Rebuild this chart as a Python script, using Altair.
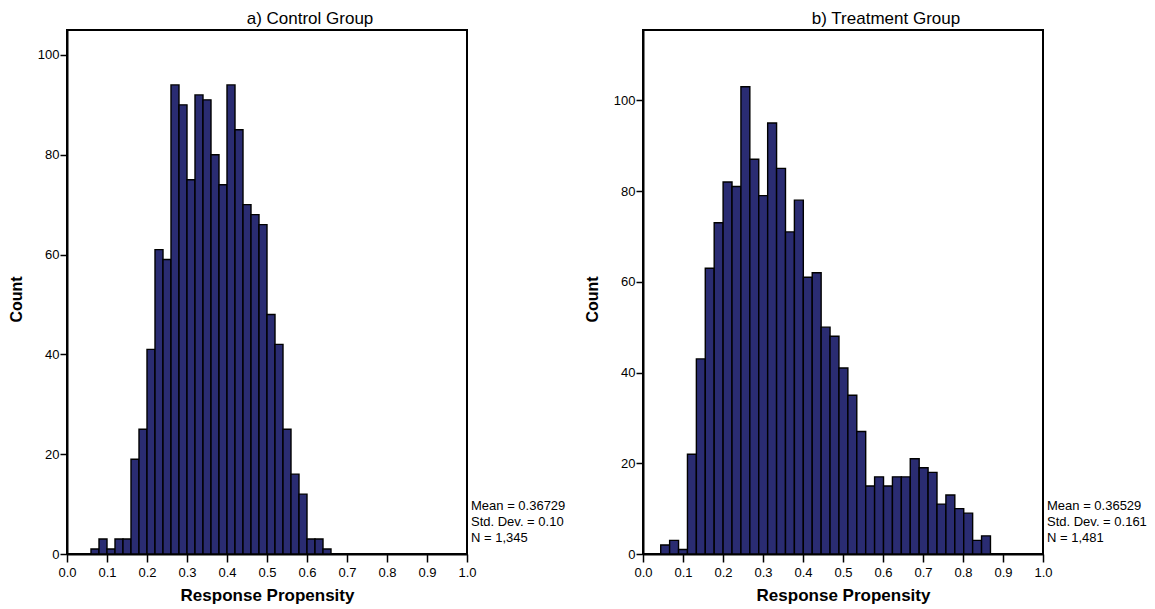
import altair as alt
import pandas as pd

FONT = "Liberation Sans, Arial, Helvetica, sans-serif"
BAR_FILL = "#2a2c72"

# ---- data ----
control_title = "a) Control Group"
treatment_title = "b) Treatment Group"

control_bin_start = 0.06
control_bin_width = 0.02
control_counts = [1, 3, 1, 3, 3, 19, 25, 41, 61, 59, 94, 90, 75, 92, 91, 80,
                  74, 94, 85, 70, 68, 66, 48, 42, 25, 16, 12, 3, 3, 1]

treatment_bin_start = 0.0443
treatment_bin_width = 0.02228
treatment_counts = [2, 3, 1, 22, 43, 63, 73, 82, 81, 103, 87, 79, 95, 85, 71, 78,
                    61, 62, 50, 48, 41, 35, 27, 15, 17, 15, 17, 17, 21, 19, 18,
                    11, 13, 10, 9, 3, 4]

control_stats = ["Mean = 0.36729", "Std. Dev. = 0.10", "N = 1,345"]
treatment_stats = ["Mean = 0.36529", "Std. Dev. = 0.161", "N = 1,481"]

x_ticks = [0.0, 0.1, 0.2, 0.3, 0.4, 0.5, 0.6, 0.7, 0.8, 0.9, 1.0]
y_ticks = [0, 20, 40, 60, 80, 100]
control_y_max = 105
treatment_y_max = 115.5


def hist_frame(start, width, counts):
    return pd.DataFrame({
        "lo": [start + i * width for i in range(len(counts))],
        "hi": [start + (i + 1) * width for i in range(len(counts))],
        "count": counts,
    })


def panel(df, y_max, title, stats, w=400, h=524):
    x_axis = alt.Axis(values=x_ticks, format=".1f", title="Response Propensity",
                      grid=False, tickSize=8, labelPadding=4, titlePadding=8,
                      labelFlush=False)
    y_axis = alt.Axis(values=y_ticks, format="d", title="Count", grid=False,
                      tickSize=7, labelPadding=1, titlePadding=13, labelFlush=False,
                      titleY=h / 2 + 7)
    bars = alt.Chart(df).mark_rect(
        fill=BAR_FILL, stroke="black", strokeWidth=1.4
    ).encode(
        x=alt.X("lo:Q", scale=alt.Scale(domain=[0, 1], nice=False, zero=False), axis=x_axis),
        x2="hi:Q",
        y=alt.Y("count:Q", scale=alt.Scale(domain=[0, y_max], nice=False), axis=y_axis),
        y2=alt.datum(0),
    )
    text = alt.Chart(pd.DataFrame({"k": [0]})).mark_text(
        text=stats, align="left", baseline="middle", fontSize=13, lineHeight=16,
        font=FONT, color="black"
    ).encode(x=alt.value(w + 4), y=alt.value(h - 48))
    return alt.layer(bars, text).properties(
        width=w, height=h,
        title=alt.TitleParams(title, fontSize=17, fontWeight="normal", font=FONT,
                              anchor="middle", frame="group", dx=43, offset=2,
                              color="black"),
    )


left = panel(hist_frame(control_bin_start, control_bin_width, control_counts),
             control_y_max, control_title, control_stats)
right = panel(hist_frame(treatment_bin_start, treatment_bin_width, treatment_counts),
              treatment_y_max, treatment_title, treatment_stats)

chart = alt.hconcat(left, right, spacing=176, bounds="flush").properties(
    autosize=alt.AutoSizeParams(type="none"),
    padding={"left": 59, "top": 22, "right": 1080, "bottom": 571},
).configure_view(
    stroke="black", strokeWidth=2
).configure_axis(
    domainColor="black", domainWidth=2, tickColor="black", tickWidth=1.5,
    labelFont=FONT, labelFontSize=13, labelColor="black",
    titleFont=FONT, titleFontSize=17, titleFontWeight="bold", titleColor="black",
).configure_axisY(titleFontSize=16)

chart.save("out.html", embed_options={"renderer": "svg", "actions": False})
